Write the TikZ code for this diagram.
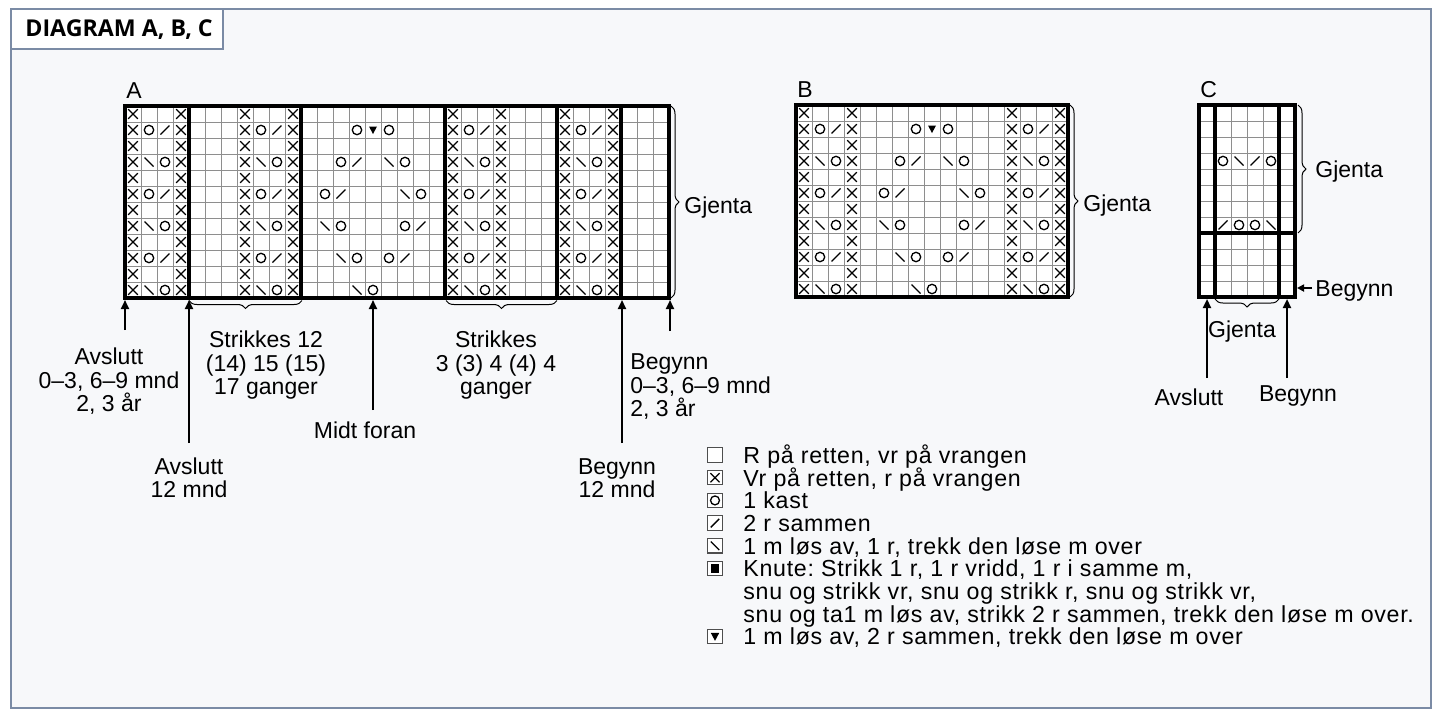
\documentclass[tikz,border=0pt]{standalone}
\usepackage{fontspec}
\setmainfont{Liberation Sans}
\newfontfamily\headfont{Open Sans}
\newfontfamily\keyfont{Liberation Sans}[LetterSpace=3]
\usetikzlibrary{arrows.meta,decorations.pathreplacing}
\definecolor{panelbg}{HTML}{F7F8FA}
\definecolor{panelline}{HTML}{7B8BA5}
\definecolor{gridgray}{HTML}{8E8E8E}
\frenchspacing

\begin{document}
\begin{tikzpicture}[x=0.5pt, y=-0.5pt,
    font=\fontsize{11.5}{11.75}\selectfont,
    gridln/.style={draw=gridgray, line width=0.5pt},
    heavy/.style={line width=1.7pt},
    stitch/.style={line width=0.65pt},
    lbl/.style={inner sep=0pt, align=center},
    arr/.style={line width=1pt, -{Triangle[length=4.5pt, width=4pt]}},
    gbrace/.style={line width=0.5pt, decorate, decoration={brace, amplitude=4pt}},
    keybox/.style={draw=gridgray!55!black, fill=white, line width=0.55pt, minimum size=7.2pt, inner sep=0pt},
    keytxt/.style={inner sep=0pt, anchor=base west, font=\keyfont\fontsize{11.6}{11.6}\selectfont},
    pics/kx/.style={code={\draw[stitch] (-4.8,-4.8) -- (4.8,4.8) (-4.8,4.8) -- (4.8,-4.8);}},
    pics/ko/.style={code={\draw[stitch] (0,0) circle[radius=2.35pt];}},
    pics/kk/.style={code={\draw[stitch] (-4.5,4.5) -- (4.5,-4.5);}},
    pics/ks/.style={code={\draw[stitch] (-4.5,-4.5) -- (4.5,4.5);}},
    pics/kv/.style={code={\fill (-4,-3.5) -- (4,-3.5) -- (0,4) -- cycle;}},
    pics/kn/.style={code={\fill (-4,-4) rectangle (4,4);}},
    % 4 stitch rib block, 12 rows
    pics/rib/.style={code={
        \foreach \r in {0,...,11} {\pic at (8,16*\r+8) {kx}; \pic at (56,16*\r+8) {kx};}
        \foreach \r in {1,5,9} {\pic at (24,16*\r+8) {ko}; \pic at (40,16*\r+8) {kk};}
        \foreach \r in {3,7,11} {\pic at (24,16*\r+8) {ks}; \pic at (40,16*\r+8) {ko};}
    }},
    % 9 stitch lace panel, 12 rows
    pics/mid/.style={code={
        \foreach \c/\r in {3/1,5/1,2/3,6/3,1/5,7/5,2/7,6/7,3/9,5/9,4/11} \pic at (16*\c+8,16*\r+8) {ko};
        \foreach \c/\r in {3/3,2/5,7/7,6/9} \pic at (16*\c+8,16*\r+8) {kk};
        \foreach \c/\r in {5/3,6/5,1/7,2/9,3/11} \pic at (16*\c+8,16*\r+8) {ks};
        \pic at (72,24) {kv};
    }}
]

    % panel
    \useasboundingbox (0,0) rectangle (1438,720);
    \fill[white] (0,0) rectangle (1438,720);
    \draw[panelline, fill=panelbg, line width=0.7pt] (11,9) rectangle (1431,708);
    \draw[panelline, fill=white, line width=0.7pt] (11,9) rectangle (223,49);
    \node[anchor=base west, inner sep=0pt, font=\headfont\bfseries\fontsize{11.6}{12}\selectfont] (head) at (25,36.5) {DIAGRAM A, B, C};

    % Diagram A
    \begin{scope}[shift={(125,106)}]
    \fill[white] (0,0) rectangle (544,192);
    \foreach \i in {1,...,33} \draw[gridln] (16*\i,0) -- (16*\i,192);
    \foreach \j in {1,...,11} \draw[gridln] (0,16*\j) -- (544,16*\j);
    \foreach \c in {0,7,20,27} \pic at (16*\c,0) {rib};
    \pic at (176,0) {mid};
    \draw[heavy] (0,0) rectangle (544,192);
    \foreach \c in {4,11,20,27,31} \draw[heavy] (16*\c,0) -- (16*\c,192);
    \node[anchor=base west, inner sep=0pt] (labA) at (1,-8) {A};
    \end{scope}

    % arrows and braces under A
    \coordinate (tA1) at (125,330);  \coordinate (hA1) at (125,300);
    \coordinate (tA2) at (189,443);  \coordinate (hA2) at (189,300);
    \coordinate (tMf) at (373,410);  \coordinate (hMf) at (373,300);
    \coordinate (tA3) at (622,443);  \coordinate (hA3) at (622,300);
    \coordinate (tA4) at (670,331);  \coordinate (hA4) at (670,300);
    \foreach \a in {A1,A2,Mf,A3,A4} \draw[arr] (t\a) -- (h\a);

    \coordinate (sA1r) at (302,300.5);  \coordinate (sA1l) at (189,300.5);
    \coordinate (sA2r) at (557,300.5);  \coordinate (sA2l) at (446,300.5);
    \coordinate (gAt) at (671,106);     \coordinate (gAb) at (671,298);
    \draw[gbrace] (sA1r) -- (sA1l);
    \draw[gbrace] (sA2r) -- (sA2l);
    \draw[gbrace] (gAt) -- (gAb);

    \node[lbl, anchor=north] (avA) at (109,347.5) {Avslutt\\0–3, 6–9 mnd\\2, 3 år};
    \node[lbl, anchor=north] (av12) at (189,457) {Avslutt\\12 mnd};
    \node[lbl, anchor=north] (st12) at (266,330.5) {Strikkes 12\\(14) 15 (15)\\17 ganger};
    \node[lbl, anchor=base] (midt) at (365,438) {Midt foran};
    \node[lbl, anchor=north] (st3) at (496,330.5) {Strikkes\\3 (3) 4 (4) 4\\ganger};
    \node[lbl, anchor=north] (bg12) at (617,458) {Begynn\\12 mnd};
    \node[lbl, align=left, anchor=north west] (bgA) at (630,353.5) {Begynn\\0–3, 6–9 mnd\\2, 3 år};
    \node[lbl, anchor=base west] (gjA) at (684,213) {Gjenta};

    % Diagram B
    \begin{scope}[shift={(796,105)}]
    \fill[white] (0,0) rectangle (272,192);
    \foreach \i in {1,...,16} \draw[gridln] (16*\i,0) -- (16*\i,192);
    \foreach \j in {1,...,11} \draw[gridln] (0,16*\j) -- (272,16*\j);
    \foreach \c in {0,13} \pic at (16*\c,0) {rib};
    \pic at (64,0) {mid};
    \draw[heavy] (0,0) rectangle (272,192);
    \node[anchor=base west, inner sep=0pt] (labB) at (1,-8) {B};
    \end{scope}

    \coordinate (gBt) at (1070,105);  \coordinate (gBb) at (1070,297);
    \draw[gbrace] (gBt) -- (gBb);
    \node[lbl, anchor=base west] (gjB) at (1083,211) {Gjenta};

    % Diagram C
    \begin{scope}[shift={(1199,105)}]
    \fill[white] (0,0) rectangle (96,192);
    \foreach \i in {1,...,5} \draw[gridln] (16*\i,0) -- (16*\i,192);
    \foreach \j in {1,...,11} \draw[gridln] (0,16*\j) -- (96,16*\j);
    \foreach \c/\r in {1/3,4/3,2/7,3/7} \pic at (16*\c+8,16*\r+8) {ko};
    \pic at (40,56) {ks};  \pic at (56,56) {kk};
    \pic at (24,120) {kk}; \pic at (72,120) {ks};
    \draw[heavy] (0,0) rectangle (96,192);
    \draw[heavy] (16,0) -- (16,192);
    \draw[heavy] (80,0) -- (80,192);
    \draw[heavy] (0,128) -- (96,128);
    \node[anchor=base west, inner sep=0pt] (labC) at (1,-8) {C};
    \end{scope}

    \coordinate (gCt) at (1298,105);  \coordinate (gCb) at (1298,233);
    \coordinate (sCr) at (1279,299);  \coordinate (sCl) at (1215,299);
    \draw[gbrace] (gCt) -- (gCb);
    \draw[gbrace] (sCr) -- (sCl);
    \coordinate (tC1) at (1207,378);  \coordinate (hC1) at (1207,299);
    \coordinate (tC2) at (1287,378);  \coordinate (hC2) at (1287,299);
    \coordinate (tC3) at (1312,288);  \coordinate (hC3) at (1297,288);
    \foreach \a in {C1,C2} \draw[arr] (t\a) -- (h\a);
    \draw[arr, -{Triangle[length=3.5pt, width=3.5pt]}] (tC3) -- (hC3);

    \node[lbl, anchor=base west] (gjC) at (1315,177) {Gjenta};
    \node[lbl, anchor=base west] (bgC) at (1315,296.5) {Begynn};
    \node[lbl, anchor=base] (gjC2) at (1242,337) {Gjenta};
    \node[lbl, anchor=base] (avC) at (1189,405) {Avslutt};
    \node[lbl, anchor=base] (bgC2) at (1298,401) {Begynn};

    % legend
    \node[keybox] (k1) at (715,455) {};
    \node[keybox] (k2) at (715,477.7) {};  \pic[scale=0.95] at (k2) {kx};
    \node[keybox] (k3) at (715,500.4) {};  \pic[scale=0.95] at (k3) {ko};
    \node[keybox] (k4) at (715,523.1) {};  \pic[scale=0.95] at (k4) {kk};
    \node[keybox] (k5) at (715,545.8) {};  \pic[scale=0.95] at (k5) {ks};
    \node[keybox] (k6) at (715,568.5) {};  \pic[scale=1.05] at (k6) {kn};
    \node[keybox] (k7) at (715,636.6) {};  \pic[scale=1.05] at (k7) {kv};

    \node[keytxt] (t1) at (743,463.3) {R på retten, vr på vrangen};
    \node[keytxt] (t2) at (743,486) {Vr på retten, r på vrangen};
    \node[keytxt] (t3) at (743,508.7) {1 kast};
    \node[keytxt] (t4) at (743,531.4) {2 r sammen};
    \node[keytxt] (t5) at (743,554.1) {1 m løs av, 1 r, trekk den løse m over};
    \node[keytxt] (t6) at (743,576.8) {Knute: Strikk 1 r, 1 r vridd, 1 r i samme m,};
    \node[keytxt] (t7) at (743,599.5) {snu og strikk vr, snu og strikk r, snu og strikk vr,};
    \node[keytxt] (t8) at (743,622.2) {snu og ta1 m løs av, strikk 2 r sammen, trekk den løse m over.};
    \node[keytxt] (t9) at (743,644.9) {1 m løs av, 2 r sammen, trekk den løse m over};

\end{tikzpicture}
\end{document}
